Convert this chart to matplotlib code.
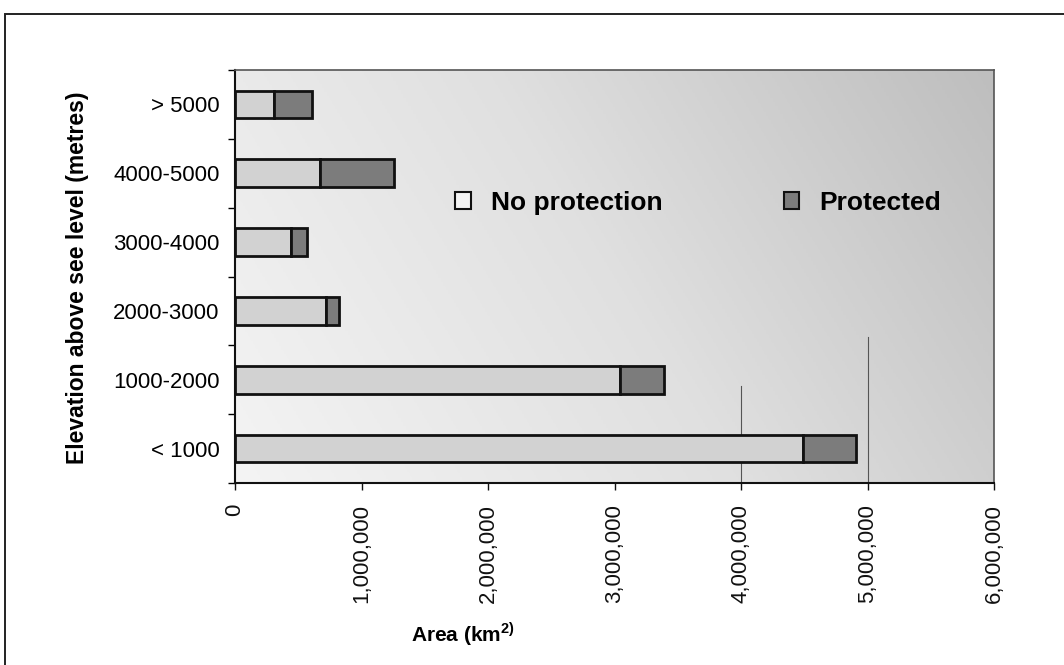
import numpy as np
import matplotlib
matplotlib.use("Agg")
import matplotlib.pyplot as plt
from matplotlib.patches import Rectangle, Patch
from matplotlib.ticker import FuncFormatter
from matplotlib.colors import LinearSegmentedColormap

plt.rcParams['font.family'] = ['Liberation Sans', 'DejaVu Sans']
plt.rcParams['mathtext.fontset'] = 'custom'
plt.rcParams['mathtext.rm'] = 'Liberation Sans'
plt.rcParams['mathtext.bf'] = 'Liberation Sans:bold'

# Land area by elevation band (km^2)
categories = ["< 1000", "1000-2000", "2000-3000", "3000-4000", "4000-5000", "> 5000"]
no_protection = [4490000, 3040000, 720000, 440000, 670000, 310000]
protected = [420000, 350000, 100000, 130000, 590000, 300000]

xticks = [0, 1000000, 2000000, 3000000, 4000000, 5000000, 6000000]

fig = plt.figure(figsize=(10.64, 6.65), dpi=100)
fig.patch.set_facecolor("white")

# outer chart frame
fig.patches.append(Rectangle((5 / 1064, -0.02), 1.1, 1 - 14 / 665 + 0.02,
                             transform=fig.transFigure, fill=False,
                             edgecolor="#222222", linewidth=1.4))

ax = fig.add_axes([235 / 1064, 1 - 483 / 665, 759 / 1064, 413 / 665])

# shaded plot-area background
gx = np.linspace(0, 1, 300)
gy = np.linspace(0, 1, 200)
GX, GY = np.meshgrid(gx, gy)
shade = 0.75 * GX + 0.25 * GY
cmap = LinearSegmentedColormap.from_list("bg", ["#f4f4f4", "#e0e0e0", "#bebebe"])
ax.imshow(shade, extent=[0, 6000000, -0.5, 5.5], origin="lower", aspect="auto",
          cmap=cmap, vmin=0, vmax=1, zorder=0, interpolation="bilinear")

y = np.arange(len(categories))
ax.barh(y, no_protection, height=0.4, color="#d2d2d2", edgecolor="#111111",
        linewidth=2, zorder=3)
ax.barh(y, protected, left=no_protection, height=0.4, color="#7c7c7c",
        edgecolor="#111111", linewidth=2, zorder=3)

# short vertical rules
ax.axvline(4000000, ymin=0, ymax=0.235, color="#555555", linewidth=0.8, zorder=1)
ax.axvline(5000000, ymin=0, ymax=0.354, color="#555555", linewidth=0.8, zorder=1)

ax.set_xlim(0, 6000000)
ax.set_ylim(-0.5, 5.5)

ax.set_xticks(xticks)
ax.xaxis.set_major_formatter(FuncFormatter(lambda v, p: f"{int(v):,}"))
ax.tick_params(axis="x", labelrotation=90, labelsize=16, length=5, width=1,
               direction="out", pad=10, colors="#111111")

ax.set_yticks(y)
ax.set_yticklabels(categories, fontsize=16)
ax.set_yticks(np.arange(-0.5, 6.0, 1.0), minor=True)
ax.tick_params(axis="y", which="major", length=0, pad=11)
ax.tick_params(axis="y", which="minor", length=5, width=1, direction="out")

for s in ["left", "bottom"]:
    ax.spines[s].set_color("#111111")
    ax.spines[s].set_linewidth(1.5)
for s in ["top", "right"]:
    ax.spines[s].set_color("#555555")
    ax.spines[s].set_linewidth(1.2)

fig.text(78 / 1064, 1 - 278 / 665, "Elevation above see level (metres)", fontsize=16.5,
         fontweight="bold", rotation=90, ha="center", va="center")
fig.text(463 / 1064, 1 - 634 / 665, r"Area (km$^{\mathbf{2)}}$", fontsize=15,
         fontweight="bold", ha="center", va="center")

handles = [Patch(facecolor="#f4f4f4", edgecolor="#111111", linewidth=1.5),
           Patch(facecolor="#7c7c7c", edgecolor="#111111", linewidth=1.5)]
ax.legend(handles, ["No protection", "Protected"], ncol=2, frameon=False,
          loc="center", bbox_to_anchor=(0.61, 0.678), handlelength=0.6,
          handleheight=0.6, handletextpad=0.75, columnspacing=4.6,
          prop={"size": 19, "weight": "bold"})

fig.savefig("out.png", dpi=100)
